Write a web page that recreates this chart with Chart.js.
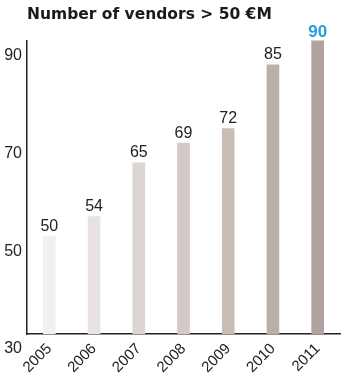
<!DOCTYPE html>
<html>
<head>
<meta charset="utf-8">
<script src="https://cdn.jsdelivr.net/npm/chart.js@4"></script>
<style>
  html, body { margin: 0; padding: 0; background: #fff; }
  #wrap { width: 346px; height: 386px; position: relative; }
</style>
</head>
<body>
<div id="wrap"><canvas id="vendorChart"></canvas></div>
<script>
// chart data
var years = ["2005", "2006", "2007", "2008", "2009", "2010", "2011"];
var vendors = [50, 54, 65, 69, 72, 85, 90];
var barColors = ["#f3f0f0", "#e8e2e2", "#ddd5d4", "#d3c9c6", "#c9bcb5", "#bcaeaa", "#b1a39f"];
var yTicks = [30, 50, 70, 90];

// draws the value above each bar, last one in blue bold
var valueLabels = {
    id: 'valueLabels',
    afterDatasetsDraw: function(chart) {
        var ctx = chart.ctx;
        var meta = chart.getDatasetMeta(0);
        ctx.save();
        ctx.textAlign = 'center';
        ctx.textBaseline = 'bottom';
        meta.data.forEach(function(bar, i) {
            var last = i == vendors.length - 1;
            ctx.font = (last ? 'bold 17px' : '16px') + ' "Liberation Sans", Arial, sans-serif';
            ctx.fillStyle = last ? '#1fa0db' : '#222222';
            ctx.fillText(vendors[i], bar.x, bar.y - (last ? 0 : 2));
        });
        ctx.restore();
    }
};

var ctx = document.getElementById('vendorChart').getContext('2d');
var vendorChart = new Chart(ctx, {
    type: 'bar',
    data: {
        labels: years,
        datasets: [{
            data: vendors,
            backgroundColor: barColors,
            barThickness: 12,
            borderWidth: 0
        }]
    },
    options: {
        responsive: true,
        maintainAspectRatio: false,
        animation: false,
        layout: { padding: { left: 0, right: 6, top: 0, bottom: 0 } },
        plugins: {
            legend: { display: false },
            tooltip: { enabled: false },
            title: {
                display: true,
                text: 'Number of vendors > 50 €M',
                align: 'start',
                fullSize: false,
                color: '#1a1a1a',
                font: { family: '"DejaVu Sans", sans-serif', size: 15.5, weight: 'bold', lineHeight: 1.25 },
                padding: { top: 5, bottom: 16 }
            }
        },
        scales: {
            x: {
                grid: { display: false, drawTicks: false },
                border: { display: true, color: '#222', width: 1.5 },
                ticks: {
                    color: '#222',
                    font: { family: '"Liberation Sans", Arial, sans-serif', size: 15 },
                    minRotation: 45,
                    maxRotation: 45,
                    padding: 6
                },
                afterFit: function(scale) { scale.height = 52; }
            },
            y: {
                min: 30,
                max: 90,
                grid: { display: false, drawTicks: false },
                border: { display: true, color: '#222', width: 1.5 },
                afterBuildTicks: function(scale) {
                    scale.ticks = yTicks.map(function(v) { return { value: v }; });
                },
                ticks: {
                    color: '#222',
                    font: { family: '"Liberation Sans", Arial, sans-serif', size: 16 },
                    padding: 5,
                    labelOffset: 15
                },
                afterFit: function(scale) { scale.width = 27; }
            }
        }
    },
    plugins: [valueLabels]
});
</script>
</body>
</html>
